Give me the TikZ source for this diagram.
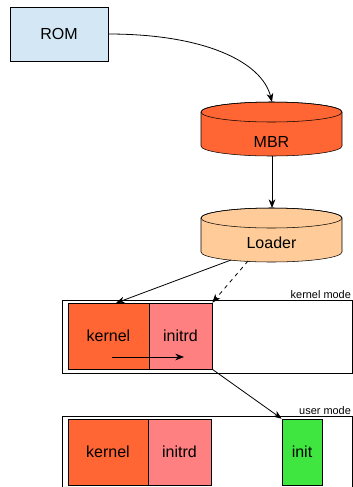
\documentclass[tikz,border=0pt]{standalone}
\usepackage{fontspec}
\setmainfont{Liberation Sans}
\usepackage{xcolor}
\usepackage{tikz}
\usetikzlibrary{calc, arrows.meta}

\definecolor{romblue}{HTML}{D4E7F5}
\definecolor{mbrred}{HTML}{FF6633}
\definecolor{loaderorange}{HTML}{FFCC99}
\definecolor{initrdpink}{HTML}{FF8080}
\definecolor{initgreen}{HTML}{3FE63F}

\tikzset{
	block/.style = {draw, inner sep=0pt, font=\fontsize{12}{14}\selectfont},
	frame/.style = {draw, line width=0.7pt},
	modelabel/.style = {anchor=south east, inner sep=1pt, font=\fontsize{8.2}{10}\selectfont},
	flow/.style = {-{Stealth[length=6.5pt, width=5pt, inset=2pt]}, line width=0.6pt}
}

\begin{document}
\begin{tikzpicture}[x=0.75pt, y=0.75pt]
					\def\cylRX{70.5};
					\def\cylRY{10};
					\useasboundingbox (0,0) rectangle (353,-487);

					% boot stages
					\begin{scope}
						\node [block, fill=romblue, minimum width=73.5pt, minimum height=40.5pt] (rom) at (59,-34) {ROM};

						\filldraw [fill=mbrred] (201,-112) -- (201,-146) arc [start angle=180, end angle=360, x radius=\cylRX, y radius=\cylRY] -- (342,-112) arc [start angle=0, end angle=180, x radius=\cylRX, y radius=\cylRY] -- cycle;
						\draw (271.5,-112) ellipse [x radius=\cylRX, y radius=\cylRY];
						\node [block, draw=none] (mbr) at (271.5,-142) {MBR};
						\coordinate (mbrtop) at (272,-102);
						\coordinate (mbrbottom) at (272,-156);

						\filldraw [fill=loaderorange] (201,-218) -- (201,-252) arc [start angle=180, end angle=360, x radius=\cylRX, y radius=\cylRY] -- (342,-218) arc [start angle=0, end angle=180, x radius=\cylRX, y radius=\cylRY] -- cycle;
						\draw (271.5,-218) ellipse [x radius=\cylRX, y radius=\cylRY];
						\node [block, draw=none] (loader) at (271.5,-243) {Loader};
						\coordinate (loadertop) at (272,-208);
						\coordinate (loaderleft) at (231,-260);
						\coordinate (loadermid) at (248,-261);
					\end{scope}

					% kernel mode
					\begin{scope}
						\draw [frame] (62,-300) rectangle (352.5,-373);
						\node [modelabel] (kmode) at (352.5,-300) {kernel mode};
						\node [block, fill=mbrred, minimum width=60.75pt, minimum height=49.5pt] (kernelk) at (108.5,-336) {kernel};
						\node [block, fill=initrdpink, minimum width=47.25pt, minimum height=49.5pt] (initrdk) at (180.5,-336) {initrd};
						\coordinate (handoff) at (112,-357);
						\coordinate (handon) at (184,-357);
						\coordinate (kerneltop) at (116,-303);
					\end{scope}

					% user mode
					\begin{scope}
						\draw [frame] (62,-416) rectangle (352.5,-490);
						\node [modelabel] (umode) at (352.5,-416) {user mode};
						\node [block, fill=mbrred, minimum width=60pt, minimum height=49.5pt] (kernelu) at (108,-452) {kernel};
						\node [block, fill=initrdpink, minimum width=47.25pt, minimum height=49.5pt] (initrdu) at (179.5,-452) {initrd};
						\node [block, fill=initgreen, minimum width=30pt, minimum height=49.5pt] (init) at (302,-452) {init};
					\end{scope}

					% connectors
					\begin{scope}[flow]
						\draw (rom.east) .. controls (205,-34) and (262,-62) .. (mbrtop);
						\draw (mbrbottom) -- (loadertop);
						\draw (loaderleft) -- (kerneltop);
						\draw [dashed] (loadermid) -- (initrdk.north east);
						\draw (handoff) -- (handon);
						\draw (initrdk.south east) -- (init.north west);
					\end{scope}
				\end{tikzpicture}
\end{document}
